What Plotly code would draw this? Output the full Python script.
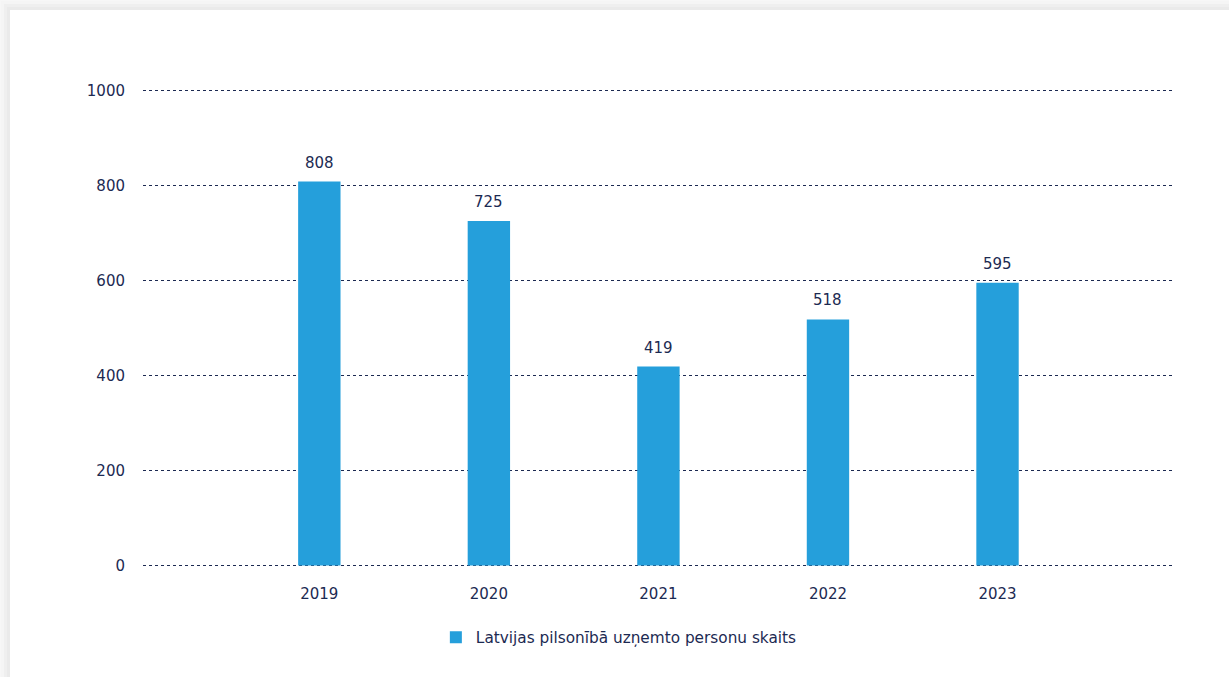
import plotly.graph_objects as go

years = ["2019", "2020", "2021", "2022", "2023"]
values = [808, 725, 419, 518, 595]
series_name = "Latvijas pilsonībā uzņemto personu skaits"
y_ticks = [0, 200, 400, 600, 800, 1000]

navy = "#1c2a52"
bar_color = "#259fdb"
font_family = "DejaVu Sans, Verdana, sans-serif"

fig = go.Figure()
fig.add_trace(go.Bar(
    x=list(range(len(years))), y=values, name=series_name,
    marker=dict(color=bar_color, line=dict(width=0)),
    width=0.25, showlegend=True,
))

for i, v in enumerate(values):
    fig.add_annotation(x=i, y=v, text=str(v), showarrow=False,
                       xref="x", yref="y",
                       yanchor="bottom", yshift=8,
                       font=dict(family=font_family, size=15, color=navy))

W, H = 1229, 677
L, R, T, B = 143, 56, 88, 109
ph = H - T - B
pw = W - L - R
# soft shadow bands + white card
for k, col in enumerate(["#f5f5f5", "#efefef", "#eaeaea"]):
    off = 10 - (3 - k) * 3
    fig.add_shape(type="rect", xref="paper", yref="paper",
                  x0=(off - L) / pw, x1=(W - L) / pw,
                  y0=-B / ph, y1=(T + ph - off) / ph,
                  fillcolor=col, line=dict(width=0), layer="below")
fig.add_shape(type="rect", xref="paper", yref="paper",
              x0=(10 - L) / pw, x1=(W - L) / pw,
              y0=-B / ph, y1=(T + ph - 10) / ph,
              fillcolor="#ffffff", line=dict(width=0), layer="below")

fig.update_layout(
    width=W, height=H,
    margin=dict(l=L, r=R, t=T, b=B),
    paper_bgcolor="#f7f7f7",
    plot_bgcolor="rgba(0,0,0,0)",
    font=dict(family=font_family, size=15, color=navy),
    xaxis=dict(range=[-1.04, 4 + 1.035], showgrid=False,
               tickmode="array", tickvals=list(range(len(years))), ticktext=years,
               showline=False, zeroline=False, ticks="",
               ticklabelstandoff=15,
               tickfont=dict(family=font_family, size=15, color=navy)),
    yaxis=dict(range=[-5, 1005], tickvals=y_ticks, showgrid=True,
               gridcolor=navy, griddash="dot", gridwidth=1,
               zeroline=False, showline=False, ticks="",
               ticklabelstandoff=17,
               tickfont=dict(family=font_family, size=15, color=navy)),
    legend=dict(orientation="h", x=0.462, xanchor="center", y=-0.11,
                yanchor="top", font=dict(family=font_family, size=15.3, color=navy),
                bgcolor="rgba(0,0,0,0)", itemwidth=30),
)

fig.write_html("out.html", config={"displayModeBar": False},
               post_script="document.body.style.margin='0';document.body.style.overflow='hidden';")
